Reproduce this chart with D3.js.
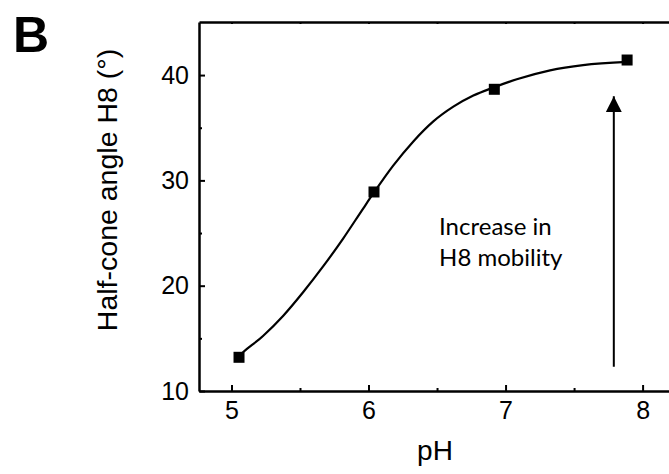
<!DOCTYPE html>
<html>
<head>
<meta charset="utf-8">
<script src="https://cdn.jsdelivr.net/npm/d3@7"></script>
<style>
  body { margin: 0; background: #fff; }
  svg { display: block; }
</style>
</head>
<body>
<div id="chart"></div>
<script>
'use strict';

// measured points (pH, half-cone angle)
var phValues = [5.055, 6.04, 6.918, 7.887];
var angleValues = [13.2, 28.9, 38.65, 41.43];

// fitted curve
var fitPh = [5.055, 5.086, 5.232, 5.378, 5.524, 5.67, 5.816, 5.962, 6.04, 6.18, 6.327, 6.473, 6.619, 6.765, 6.918, 7.082, 7.325, 7.566, 7.887];
var fitAngle = [13.35, 13.7, 15.25, 17.15, 19.4, 21.85, 24.5, 27.35, 28.85, 31.4, 33.7, 35.6, 37.0, 38.05, 38.85, 39.6, 40.45, 40.95, 41.25];

var xTicks = [5, 6, 7, 8];
var xMinorTicks = [5.5, 6.5, 7.5];
var yTicks = [10, 20, 30, 40];
var yMinorTicks = [15, 25, 35];

var arrowPh = 7.79, arrowFrom = 12.3, arrowTo = 38.0;
var noteLines = ['Increase in', 'H8 mobility'];

var width = 669, height = 474;
var plotLeft = 199, plotRight = 670, plotTop = 22, plotBottom = 391;

var svg = d3.select('#chart').append('svg')
    .attr('width', width)
    .attr('height', height);

var x = d3.scaleLinear().domain([4.763, 8.2]).range([plotLeft, plotRight]);
var y = d3.scaleLinear().domain([10, 45.04]).range([plotBottom, plotTop]);

var tickFont = '"Liberation Sans", Arial, sans-serif';

// minor ticks first, then majors with labels
svg.append('g')
    .attr('transform', 'translate(0,' + plotBottom + ')')
    .call(d3.axisBottom(x).tickValues(xMinorTicks).tickSize(-3).tickFormat(''))
    .call(function(g){ g.select('.domain').remove(); });
svg.append('g')
    .attr('transform', 'translate(' + plotLeft + ',0)')
    .call(d3.axisLeft(y).tickValues(yMinorTicks).tickSize(-3).tickFormat(''))
    .call(function(g){ g.select('.domain').remove(); });

svg.append('g')
    .attr('transform', 'translate(0,' + plotBottom + ')')
    .call(d3.axisBottom(x).tickValues(xTicks).tickSize(-6).tickPadding(10).tickSizeOuter(0).tickFormat(d3.format('d')));
svg.append('g')
    .attr('transform', 'translate(' + plotLeft + ',0)')
    .call(d3.axisLeft(y).tickValues(yTicks).tickSize(-6).tickPadding(10).tickSizeOuter(0).tickFormat(d3.format('d')));

// top frame line with tiny inward ticks
svg.append('g')
    .attr('transform', 'translate(0,' + plotTop + ')')
    .call(d3.axisTop(x).tickValues(xTicks.concat(xMinorTicks)).tickSize(-2).tickSizeOuter(0).tickFormat(''));

svg.selectAll('.domain')
    .attr('stroke', '#000')
    .attr('stroke-width', 2.5);
svg.selectAll('.tick line')
    .attr('stroke', '#000')
    .attr('stroke-width', 2);
svg.selectAll('.tick text')
    .attr('fill', '#000')
    .style('font-family', tickFont)
    .style('font-size', '25px');

// fit curve
var line = d3.line()
    .x(function(d){ return x(d[0]); })
    .y(function(d){ return y(d[1]); })
    .curve(d3.curveMonotoneX);

svg.append('path')
    .datum(d3.zip(fitPh, fitAngle))
    .attr('d', line)
    .attr('fill', 'none')
    .attr('stroke', '#000')
    .attr('stroke-width', 2.2);

// square markers
var sq = 11;
svg.selectAll('rect.pt')
    .data(d3.zip(phValues, angleValues))
    .enter().append('rect')
    .attr('class', 'pt')
    .attr('x', function(d){ return x(d[0]) - sq/2; })
    .attr('y', function(d){ return y(d[1]) - sq/2; })
    .attr('width', sq)
    .attr('height', sq)
    .attr('fill', '#000');

// arrow
svg.append('defs').append('marker')
    .attr('id', 'head')
    .attr('viewBox', '0 0 16 16')
    .attr('refX', 16)
    .attr('refY', 8)
    .attr('markerWidth', 16)
    .attr('markerHeight', 16)
    .attr('markerUnits', 'userSpaceOnUse')
    .attr('orient', 'auto')
    .append('path')
    .attr('d', 'M0,0 L16,8 L0,16 Z')
    .attr('fill', '#000');

svg.append('line')
    .attr('x1', x(arrowPh))
    .attr('x2', x(arrowPh))
    .attr('y1', y(arrowFrom))
    .attr('y2', y(arrowTo))
    .attr('stroke', '#000')
    .attr('stroke-width', 2)
    .attr('marker-end', 'url(#head)');

// annotation
svg.append('text')
    .attr('x', x(6.515))
    .attr('y', y(24.8))
    .style('font-family', 'Lato, "Open Sans", sans-serif')
    .style('font-size', '24px')
    .attr('fill', '#000')
    .selectAll('tspan')
    .data(noteLines)
    .enter().append('tspan')
    .attr('x', x(6.515))
    .attr('dy', function(d, i){ return i ? 31 : 0; })
    .text(function(d){ return d; });

// axis titles
svg.append('text')
    .attr('x', 435)
    .attr('y', 460)
    .attr('text-anchor', 'middle')
    .style('font-family', tickFont)
    .style('font-size', '28px')
    .text('pH');

svg.append('text')
    .attr('transform', 'translate(117,190) rotate(-90)')
    .attr('text-anchor', 'middle')
    .style('font-family', tickFont)
    .style('font-size', '28.5px')
    .text('Half-cone angle H8 (\u00b0)');

// panel letter
svg.append('text')
    .attr('x', 13)
    .attr('y', 52)
    .style('font-family', tickFont)
    .style('font-weight', 'bold')
    .style('font-size', '50px')
    .text('B');
</script>
</body>
</html>
